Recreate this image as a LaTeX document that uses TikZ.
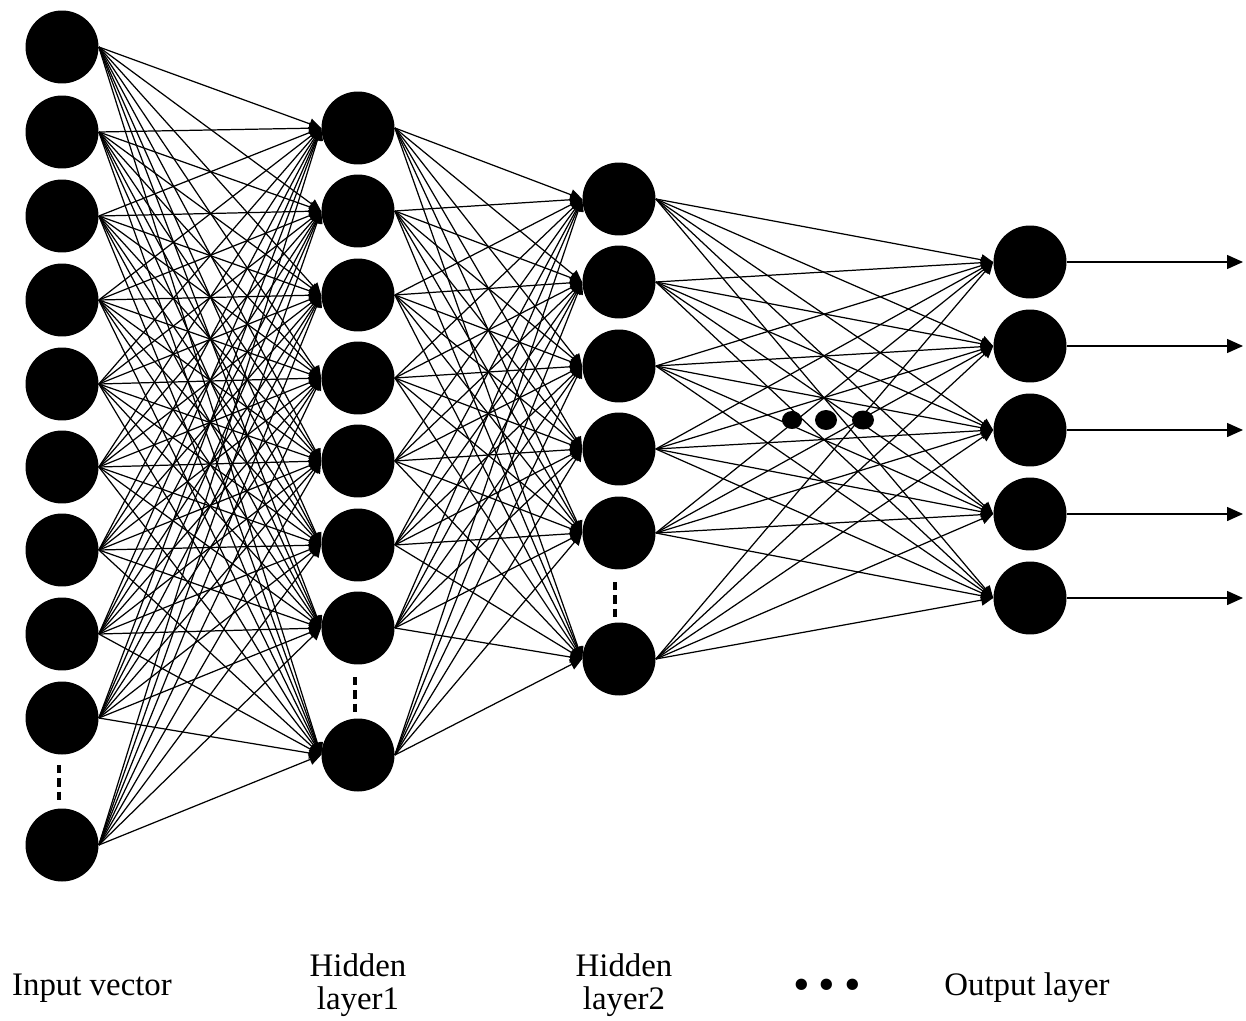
\documentclass[tikz,border=0pt]{standalone}
\usepackage{fontspec}
\setmainfont{Liberation Serif}
\usetikzlibrary{arrows.meta}

\begin{document}
\begin{tikzpicture}[x=0.02cm,y=-0.02cm,
    neuron/.style={circle,fill=black,minimum size=1.46cm,inner sep=0pt},
    link/.style={line width=0.7pt,-{Triangle[length=2.4mm,width=2.2mm]}},
    outlink/.style={line width=0.8pt,-{Triangle[length=3.2mm,width=2.8mm]}},
    gap/.style={line width=1.8pt,dash pattern=on 4.8pt off 2.8pt},
    layername/.style={font=\fontsize{18.7}{19}\selectfont,align=center}]
    \useasboundingbox (0,0) rectangle (1246,1020);

    % input vector
    \foreach \y [count=\i] in {47,132,216,300,384,467,550,634,718,845}
        \node[neuron] (in\i) at (62,\y) {};
    % hidden layer 1
    \foreach \y [count=\i] in {128,211,295,378,461,545,628,755}
        \node[neuron] (ha\i) at (358,\y) {};
    % hidden layer 2
    \foreach \y [count=\i] in {199,282,366,449,533,659}
        \node[neuron] (hb\i) at (619,\y) {};
    % output layer
    \foreach \y [count=\i] in {262,346,430,514,598}
        \node[neuron] (out\i) at (1030,\y) {};

    % weights
    \foreach \i in {1,...,10}
        \foreach \j in {1,...,8}
            \draw[link] (in\i.east) -- (ha\j.west);
    \foreach \i in {1,...,8}
        \foreach \j in {1,...,6}
            \draw[link] (ha\i.east) -- (hb\j.west);
    \foreach \i in {1,...,6}
        \foreach \j in {1,...,5}
            \draw[link] (hb\i.east) -- (out\j.west);

    % outputs
    \coordinate (rim) at (1243,0);
    \foreach \j in {1,...,5}{
        \coordinate (end\j) at (out\j -| rim);
        \draw[outlink] (out\j.east) -- (end\j);
    }

    % skipped neurons
    \draw[gap] (59,765) -- (59,800);
    \draw[gap] (355,677) -- (355,712);
    \draw[gap] (615,582) -- (615,617);

    % more hidden layers
    \fill (792,420) circle [x radius=10,y radius=9];
    \fill (826,420) circle [x radius=11,y radius=10];
    \fill (863,420) circle [x radius=11,y radius=9.5];

    % layer names
    \node[layername,anchor=base] (invec) at (92,995) {Input vector};
    \node[layername] (hid1) at (358,985) {Hidden\\layer1};
    \node[layername] (hid2) at (624,985) {Hidden\\layer2};
    \node[layername,font=\fontsize{27}{27}\selectfont,anchor=base] (more) at (827,1000) {•\hspace{5pt}•\hspace{5pt}•};
    \node[layername,anchor=base] (outl) at (1027,995) {Output layer};
\end{tikzpicture}
\end{document}
